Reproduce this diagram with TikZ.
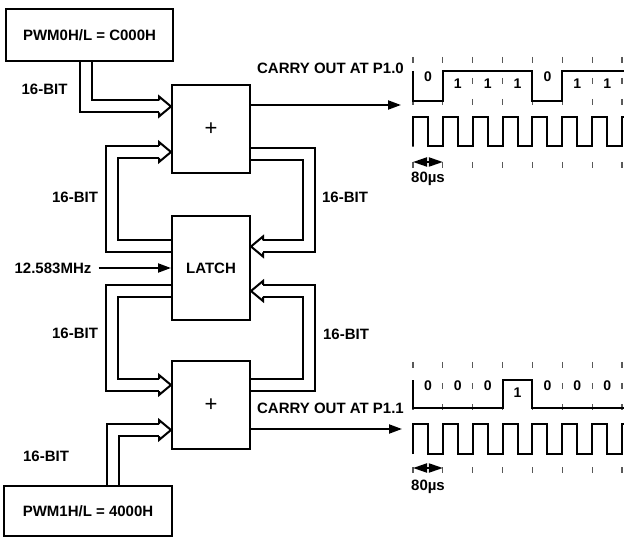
\documentclass[tikz,border=0pt]{standalone}
\usepackage{fontspec}
\setmainfont{Liberation Sans}
\usepackage{tikz}
\usetikzlibrary{arrows.meta, positioning, calc, backgrounds}

\tikzset{
    bushead/.pic={\draw[line width=2pt, miter limit=10] (-12,6) -- (-12,10) -- (0,0) -- (-12,-10) -- (-12,-6);}
}
\def\bw{29.857}

\begin{document}
\begin{tikzpicture}[x=1pt, y=-1pt,
    blk/.style={rectangle, draw, line width=2pt, inner sep=0pt, font=\bfseries\fontsize{15}{17}\selectfont},
    lbl/.style={inner sep=0pt, font=\bfseries\fontsize{15}{17}\selectfont},
    bit/.style={inner sep=0pt, font=\bfseries\fontsize{14}{16}\selectfont},
    bus/.style={double, double distance=10pt, line width=2pt, line join=miter},
    sig/.style={line width=2pt, -{Triangle[length=13pt, width=9pt]}},
    measure/.style={line width=2pt, {Triangle[length=14pt, width=9pt]}-{Triangle[length=14pt, width=9pt]}},
    wave/.style={line width=2pt, line join=miter},
    guide/.style={line width=1.2pt, black!65, dash pattern=on 6pt off 15pt},
]
    \useasboundingbox (0,0) rectangle (624,537);
    % Blocks
    \node[blk, minimum width=167pt, minimum height=52pt] (pwm0) at (89.5,35) {PWM0H/L = C000H};
    \node[blk, minimum width=78pt, minimum height=88pt, font=\fontsize{22}{22}\selectfont] (add0) at (211,129) {+};
    \node[blk, minimum width=78pt, minimum height=104pt] (latch) at (211,268) {LATCH};
    \node[blk, minimum width=78pt, minimum height=88pt, font=\fontsize{22}{22}\selectfont] (add1) at (211,405) {+};
    \node[blk, minimum width=168pt, minimum height=50pt] (pwm1) at (88,511) {PWM1H/L = 4000H};
    % Bus tips
    \coordinate (a0i) at ([yshift=22.5pt]add0.west);
    \coordinate (a0f) at ([yshift=-23pt]add0.west);
    \coordinate (a1f) at ([yshift=20pt]add1.west);
    \coordinate (a1i) at ([yshift=-25pt]add1.west);
    \coordinate (la) at ([yshift=21.5pt]latch.east);
    \coordinate (lb) at ([yshift=-23pt]latch.east);
    % 16-bit buses
    \begin{scope}[on background layer]
        \draw[bus] ([xshift=-4pt]pwm0.south) |- ([xshift=-12pt]a0i);
        \draw[bus] ([yshift=21.5pt]latch.west) -- ++(-59,0) |- ([xshift=-12pt]a0f);
        \draw[bus] ([yshift=-23.5pt]latch.west) -- ++(-59,0) |- ([xshift=-12pt]a1f);
        \draw[bus] ([xshift=25pt]pwm1.north) |- ([xshift=-12pt]a1i);
        \draw[bus] ([yshift=-25pt]add0.east) -- ++(58,0) |- ([xshift=12pt]la);
        \draw[bus] ([yshift=20pt]add1.east) -- ++(58,0) |- ([xshift=12pt]lb);
    \end{scope}
    \foreach \p in {a0i,a0f,a1f,a1i} { \pic at (\p) {bushead}; }
    \foreach \p in {la,lb} { \pic[rotate=180] at (\p) {bushead}; }
    % Labels
    \node[lbl] (w0) at (44.5,89) {16-BIT};
    \node[lbl] (w1) at (75,197) {16-BIT};
    \node[lbl] (w2) at (345,197) {16-BIT};
    \node[lbl] (w3) at (75,333) {16-BIT};
    \node[lbl] (w4) at (346,334) {16-BIT};
    \node[lbl] (w5) at (46,456) {16-BIT};
    % Clock
    \node[lbl] (clk) at (53,268) {12.583MHz};
    \draw[sig] ([xshift=7pt]clk.east) -- (latch.west);
    % Carry outputs
    \coordinate (p10) at (401,105);
    \coordinate (p11) at (402,429);
    \draw[sig] ([yshift=24pt]add0.east) -- (p10);
    \draw[sig] ([yshift=-24pt]add1.east) -- (p11);
    \node[lbl, anchor=east] (c0) at (404,68) {CARRY OUT AT P1.0};
    \node[lbl, anchor=east] (c1) at (404,408) {CARRY OUT AT P1.1};
    % Bit boundaries
    \foreach \i in {0,...,7} {
        \draw[guide] ({413+\i*\bw},57) -- ++(0,111);
        \draw[guide] ({413+\i*\bw},362) -- ++(0,111);
    }
    % P1.0 waveform
    \draw[wave] (413,71) -- (413,101) -| ({413+\bw},71) -| ({413+4*\bw},101) -| ({413+5*\bw},71) -- (624,71);
    \foreach \b [count=\i from 0] in {0,1,1,1,0,1,1} { \node[bit] (t\i) at ({428+\i*\bw},{77+7*\b}) {\b}; }
    \draw[wave] (413,146) \foreach \i in {1,...,7} { -- ++(0,-29) -- ++({\bw/2},0) -- ++(0,29) -- ++({\bw/2},0) } -- ++(0,-29) -- (624,117);
    \draw[measure] (413,162) -- ({413+\bw},162);
    \node[lbl] (u0) at (428,179) {80µs};
    % P1.1 waveform
    \draw[wave] (413,380) -- (413,408) -| ({413+3*\bw},380) -| ({413+4*\bw},408) -- (624,408);
    \foreach \b [count=\i from 0] in {0,0,0,1,0,0,0} { \node[bit] (s\i) at ({428+\i*\bw},{386+7*\b}) {\b}; }
    \draw[wave] (413,454) \foreach \i in {1,...,7} { -- ++(0,-30) -- ++({\bw/2},0) -- ++(0,30) -- ++({\bw/2},0) } -- ++(0,-30) -- (624,424);
    \draw[measure] (413,468) -- ({413+\bw},468);
    \node[lbl] (u1) at (428,487) {80µs};
\end{tikzpicture}
\end{document}
